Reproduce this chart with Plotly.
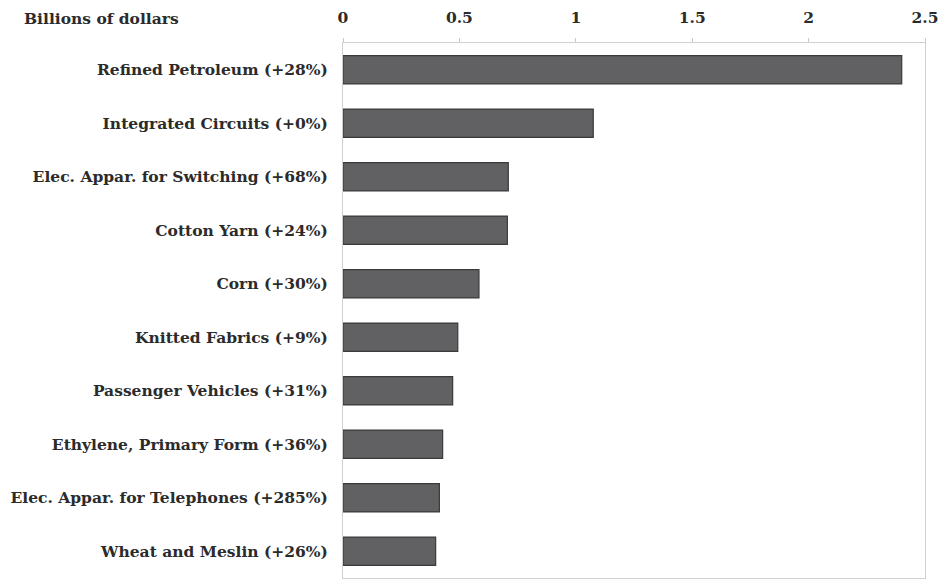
import plotly.graph_objects as go

categories = [
    "Refined Petroleum (+28%)",
    "Integrated Circuits (+0%)",
    "Elec. Appar. for Switching (+68%)",
    "Cotton Yarn (+24%)",
    "Corn (+30%)",
    "Knitted Fabrics (+9%)",
    "Passenger Vehicles (+31%)",
    "Ethylene, Primary Form (+36%)",
    "Elec. Appar. for Telephones (+285%)",
    "Wheat and Meslin (+26%)",
]
values = [2.40, 1.075, 0.71, 0.706, 0.584, 0.493, 0.471, 0.428, 0.414, 0.398]
tick_vals = [0, 0.5, 1, 1.5, 2, 2.5]
tick_text = ["0", "0.5", "1", "1.5", "2", "2.5"]
axis_title = "Billions of dollars"

FONT = "Georgia, 'DejaVu Serif', serif"
FS = 15.5
TXT = "#2b2b2b"

fig = go.Figure(go.Bar(
    x=values, y=categories, orientation="h",
    marker=dict(color="#616163", line=dict(color="#3a3a3a", width=1.2)),
    width=0.53,
))

fig.update_layout(
    width=941, height=579,
    margin=dict(l=343, r=16, t=43, b=1),
    paper_bgcolor="white", plot_bgcolor="white",
    showlegend=False,
    font=dict(family=FONT, size=FS, color=TXT, weight="bold"),
    xaxis=dict(
        side="top", range=[0, 2.5], tickvals=tick_vals, ticktext=tick_text,
        showgrid=False, zeroline=False,
        showline=True, linecolor="#d0d0d0", linewidth=1, mirror=True,
        ticks="outside", ticklen=4, tickcolor="#c8c8c8",
        ticklabelstandoff=9,
        tickfont=dict(family=FONT, size=FS, color=TXT, weight="bold"),
    ),
    yaxis=dict(
        categoryorder="array", categoryarray=categories, autorange="reversed",
        showgrid=False, zeroline=False,
        showline=True, linecolor="#d0d0d0", linewidth=1, mirror=True,
        ticks="", ticklabelstandoff=11,
        tickfont=dict(family=FONT, size=FS, color=TXT, weight="bold"),
    ),
    annotations=[dict(
        text=axis_title, xref="paper", yref="paper", x=(22 - 343) / 582, y=1,
        yshift=25, xanchor="left", yanchor="middle", showarrow=False,
        font=dict(family=FONT, size=FS, color=TXT, weight="bold"),
    )],
)

fig.write_html(
    "out.html",
    config={"displayModeBar": False},
    post_script="document.body.style.margin='0';document.body.style.padding='0';",
)
